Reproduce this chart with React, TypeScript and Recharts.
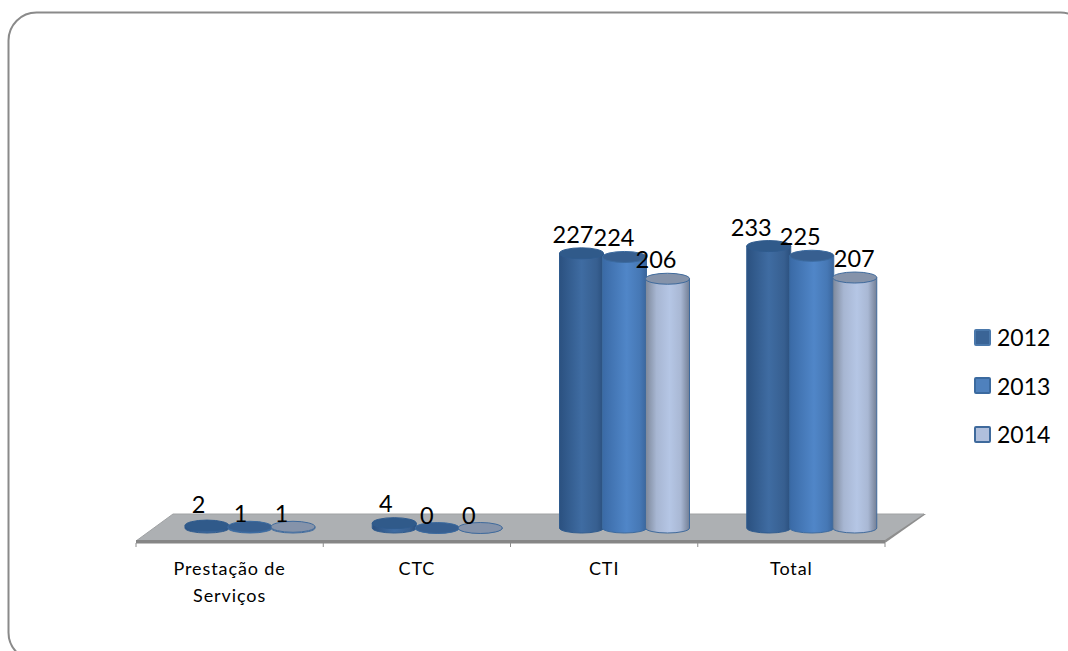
import React from "react";
import { BarChart, Bar, XAxis, YAxis, Legend, LabelList } from "recharts";

const categories = ["Prestação de Serviços", "CTC", "CTI", "Total"];
const values2012 = [2, 4, 227, 233];
const values2013 = [1, 0, 224, 225];
const values2014 = [1, 0, 206, 207];

const rows = categories.map((name, i) => ({
  name,
  y2012: values2012[i],
  y2013: values2013[i],
  y2014: values2014[i],
}));

const FONT = "Lato, 'Open Sans', sans-serif";
const PLOT_LEFT = 136;
const PLOT_RIGHT = 885;
const DEPTH_X = 19;
const BAND = (PLOT_RIGHT - PLOT_LEFT) / categories.length;

const styles: Record<string, any> = {
  y2012: { grad: "g2012", top: "#305a8a", edge: "#2f5b8e", swatch: "#3a6496", swatchEdge: "#4a78ab" },
  y2013: { grad: "g2013", top: "#375f90", edge: "#3b6a9f", swatch: "#4f81bd", swatchEdge: "#3b6a9f" },
  y2014: { grad: "g2014", top: "#8593aa", edge: "#3f6a9c", swatch: "#b0bfdc", swatchEdge: "#3f6a9c" },
};

// fine placement of the value labels, per series and category
const labelNudge: Record<string, [number, number][]> = {
  y2012: [[-7, -3], [-7, -1], [-7, 0], [-16, 0]],
  y2013: [[-8, 5], [-9, 6], [-9, -1], [-10, -1]],
  y2014: [[-10, 5], [-10, 6], [-10, -1], [1, -1]],
};

function Cylinder(props: any) {
  const { x, y, width, height, seriesKey } = props;
  const s = styles[seriesKey];
  const cx = x + DEPTH_X + 1;
  const w = width + 1;
  const h = Math.max(height, 0);
  const bottom = y + h;
  const d = `M${cx},${y} L${cx},${bottom} A${w / 2},5 0 0 0 ${cx + w},${bottom} L${cx + w},${y} Z`;
  return (
    <g>
      <path d={d} fill={`url(#${s.grad})`} stroke={s.edge} strokeWidth={1} />
      <ellipse cx={cx + w / 2} cy={y} rx={w / 2} ry={5.5} fill={s.top} stroke={s.edge} strokeWidth={1} />
    </g>
  );
}

function ValueLabel(props: any) {
  const { x, y, width, value, index, seriesKey } = props;
  const [dx, dy] = labelNudge[seriesKey][index];
  return (
    <text
      x={x + width / 2 + DEPTH_X + dx}
      y={y - 19 + dy}
      textAnchor="middle"
      dominantBaseline="central"
      fontFamily={FONT}
      fontSize={23.5}
      fill="#000"
    >
      {value}
    </text>
  );
}

function CategoryTick(props: any) {
  const { x, index, payload } = props;
  const text: string = payload.value;
  const cut = text.lastIndexOf(" ");
  const lines = text.length > 12 ? [text.slice(0, cut), text.slice(cut + 1)] : [text];
  return (
    <g>
      <line x1={x - BAND / 2} x2={x - BAND / 2} y1={543} y2={547} stroke="#8c8c8c" strokeWidth={1} />
      {index === categories.length - 1 && (
        <line x1={x + BAND / 2} x2={x + BAND / 2} y1={543} y2={547} stroke="#8c8c8c" strokeWidth={1} />
      )}
      {lines.map((line, i) => (
        <text
          key={line}
          x={x}
          y={568 + i * 27}
          textAnchor="middle"
          dominantBaseline="central"
          fontFamily={FONT}
          fontSize={18}
          letterSpacing={0.9}
          fill="#000"
        >
          {line}
        </text>
      ))}
    </g>
  );
}

function LegendBox(props: any) {
  const items: any[] = props.payload || [];
  return (
    <div style={{ fontFamily: FONT, fontSize: 23, color: "#000" }}>
      {items.map((item) => {
        const s = styles[item.dataKey];
        return (
          <div key={item.value} style={{ display: "flex", alignItems: "center", height: 48.5 }}>
            <span
              style={{
                display: "inline-block",
                boxSizing: "border-box",
                width: 17,
                height: 17,
                marginRight: 6,
                background: s.swatch,
                border: `2px solid ${s.swatchEdge}`,
                borderRadius: 2,
              }}
            />
            {item.value}
          </div>
        );
      })}
    </div>
  );
}

const series: [string, string][] = [
  ["y2012", "2012"],
  ["y2013", "2013"],
  ["y2014", "2014"],
];

export default function App() {
  return (
    <div style={{ position: "absolute", left: 0, top: 0, width: 1068, height: 651, overflow: "hidden", background: "#fff" }}>
      <BarChart
        width={1068}
        height={651}
        data={rows}
        barSize={43}
        barGap={0}
        margin={{ top: 225.5, right: 89, bottom: 63, left: PLOT_LEFT }}
      >
        <defs>
          <linearGradient id="g2012" x1="0" x2="1" y1="0" y2="0">
            <stop offset="0" stopColor="#2b5180" />
            <stop offset="0.5" stopColor="#3f6ca2" />
            <stop offset="0.85" stopColor="#375f90" />
            <stop offset="1" stopColor="#2a4f7d" />
          </linearGradient>
          <linearGradient id="g2013" x1="0" x2="1" y1="0" y2="0">
            <stop offset="0" stopColor="#3a6aa6" />
            <stop offset="0.55" stopColor="#5086c8" />
            <stop offset="0.85" stopColor="#4678b5" />
            <stop offset="1" stopColor="#3a659c" />
          </linearGradient>
          <linearGradient id="g2014" x1="0" x2="1" y1="0" y2="0">
            <stop offset="0" stopColor="#7c8799" />
            <stop offset="0.25" stopColor="#a7b6d2" />
            <stop offset="0.55" stopColor="#b5c6e5" />
            <stop offset="0.8" stopColor="#a9b8d4" />
            <stop offset="1" stopColor="#737f95" />
          </linearGradient>
        </defs>
        <rect x={8.5} y={12.5} width={1080} height={648} rx={28} ry={28} fill="#fff" stroke="#8a8a8a" strokeWidth={2} />
        <polygon points="136,541 173,514 924,514 885,541" fill="#adb0b3" stroke="#a0a2a4" strokeWidth={1} />
        <rect x={136} y={540} width={749} height={3.5} fill="#868686" />
        <polygon points="885,543 885,540 924,514 926,514" fill="#8e8e8e" />
        <XAxis
          dataKey="name"
          axisLine={false}
          tickLine={false}
          height={60}
          interval={0}
          tick={<CategoryTick />}
        />
        <YAxis hide domain={[0, 250]} />
        <Legend
          layout="vertical"
          align="right"
          verticalAlign="middle"
          width={94}
          wrapperStyle={{ left: 974, top: 313, right: "auto", bottom: "auto", width: 94 }}
          content={<LegendBox />}
        />
        {series.map(([key, name]) => (
          <Bar
            key={key}
            dataKey={key}
            name={name}
            fill={styles[key].swatch}
            isAnimationActive={false}
            shape={<Cylinder seriesKey={key} />}
          >
            <LabelList dataKey={key} content={<ValueLabel seriesKey={key} />} />
          </Bar>
        ))}
      </BarChart>
    </div>
  );
}
